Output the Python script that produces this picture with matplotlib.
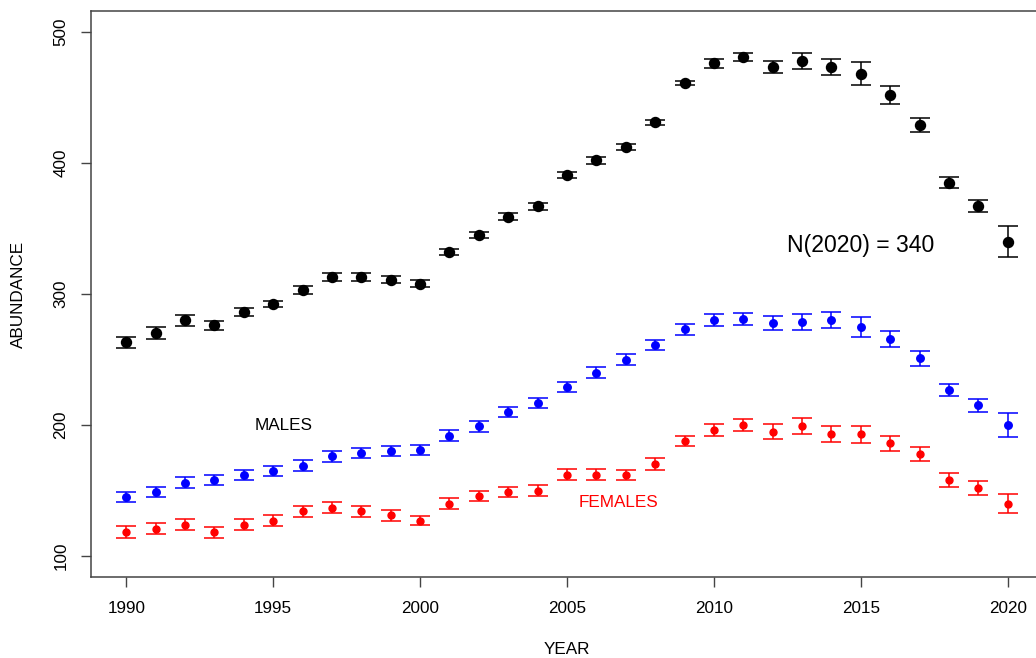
import matplotlib
matplotlib.use("Agg")
import matplotlib.pyplot as plt

plt.rcParams["font.family"] = ["Liberation Sans", "DejaVu Sans"]

# Abundance estimates by year with +/- error half-widths
years = list(range(1990, 2021))

total = [263, 270, 280, 276, 286, 292, 303, 313, 313, 311, 308,
         332, 345, 359, 367, 391, 402, 412, 431, 461, 476,
         481, 473, 478, 473, 468, 452, 429, 385, 367, 340]
total_err = [4.0, 4.6, 4.2, 3.7, 3.0, 2.3, 3.2, 3.0, 2.8, 2.8, 2.8,
             2.5, 2.5, 2.8, 2.7, 2.3, 2.5, 2.3, 2.0, 1.7, 3.2,
             3.0, 4.7, 6.1, 6.1, 8.7, 7.1, 5.2, 4.0, 4.6, 11.8]

males = [145, 149, 156, 158, 162, 165, 169, 176, 179, 180, 181,
         192, 199, 210, 217, 229, 240, 250, 261, 273, 280,
         281, 278, 279, 280, 275, 266, 251, 227, 215, 200]
males_err = [4.0, 4.0, 4.0, 4.0, 4.0, 3.6, 4.0, 4.0, 3.8, 4.0, 3.7,
             4.0, 4.0, 4.0, 4.0, 4.0, 4.0, 4.0, 4.0, 4.0, 4.6,
             4.6, 5.1, 6.1, 6.1, 7.6, 6.1, 5.6, 4.6, 5.1, 9.0]

females = [118, 121, 124, 118, 124, 127, 134, 137, 134, 131, 127,
           140, 146, 149, 150, 162, 162, 162, 170, 188, 196,
           200, 195, 199, 193, 193, 186, 178, 158, 152, 140]
females_err = [4.6, 4.5, 4.5, 4.0, 4.0, 4.0, 4.0, 4.3, 4.3, 4.0, 3.6,
               4.0, 4.0, 4.0, 4.0, 4.3, 4.3, 4.0, 4.6, 4.0, 4.6,
               4.5, 5.6, 6.0, 6.1, 6.6, 6.0, 5.5, 5.0, 5.1, 7.0]

x_ticks = [1990, 1995, 2000, 2005, 2010, 2015, 2020]
y_ticks = [100, 200, 300, 400, 500]

W, H = 1036, 658
fig = plt.figure(figsize=(W / 100, H / 100), dpi=100)
left, right, bottom, top = 91, 1043, 577, 11
ax = fig.add_axes([left / W, 1 - bottom / H, (right - left) / W, (bottom - top) / H])

ax.errorbar(years, total, yerr=total_err, fmt="o", color="black", ms=7.2,
            elinewidth=1.1, capsize=7, capthick=1.1)
ax.errorbar(years, males, yerr=males_err, fmt="o", color="blue", ms=5.4,
            elinewidth=1.1, capsize=7, capthick=1.1)
ax.errorbar(years, females, yerr=females_err, fmt="o", color="red", ms=5.0,
            elinewidth=1.1, capsize=7, capthick=1.1)

ax.text(1995.35, 200, "MALES", color="black", fontsize=12.3, ha="center", va="center")
ax.text(2006.75, 141, "FEMALES", color="red", fontsize=12.3, ha="center", va="center")
ax.text(2015.0, 337, f"N({years[-1]}) = {total[-1]}", color="black", fontsize=16.6,
        ha="center", va="center")

ax.set_xlim(1988.8, 2021.2)
ax.set_ylim(84, 516)
ax.set_xticks(x_ticks)
ax.set_yticks(y_ticks)
ax.set_xticklabels([str(v) for v in x_ticks], fontsize=12.3, va="center")
ax.set_yticklabels([str(v) for v in y_ticks], fontsize=12.3, rotation=90,
                   ha="center", va="center")
ax.tick_params(axis="both", direction="out", length=7.2, width=1.0, color="#444444")
ax.tick_params(axis="x", pad=15.8)
ax.tick_params(axis="y", pad=14.4)

for s in ax.spines.values():
    s.set_color("#444444")
    s.set_linewidth(1.1)

ax.set_xlabel("YEAR", fontsize=12.3, va="center")
ax.xaxis.set_label_coords(0.5, (bottom - 649) / (bottom - top))
ax.set_ylabel("ABUNDANCE", fontsize=12.3, va="center")
ax.yaxis.set_label_coords((18 - left) / (right - left), 0.5)

fig.savefig("out.png", dpi=100)
